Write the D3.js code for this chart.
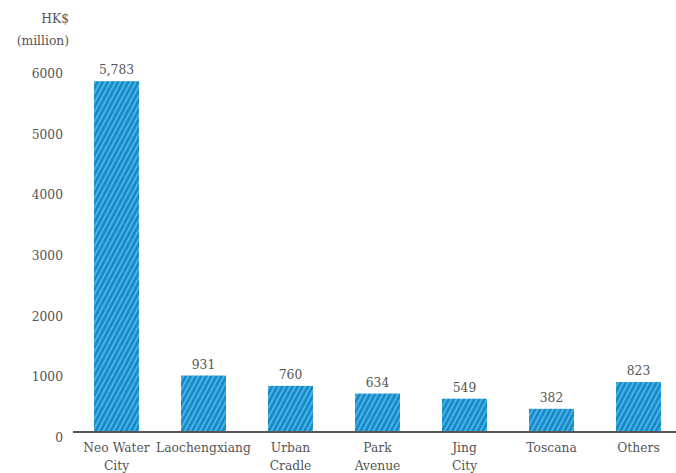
<!DOCTYPE html>
<html>
<head>
<meta charset="utf-8">
<script src="https://cdn.jsdelivr.net/npm/d3@7"></script>
<style>
  body { margin: 0; background: #fff; }
  svg text { font-family: "DejaVu Serif", serif; fill: #555; }
</style>
</head>
<body>
<svg width="676" height="473"></svg>
<script>
// chart data
const categories = [['Neo Water', 'City'], ['Laochengxiang'], ['Urban', 'Cradle'], ['Park', 'Avenue'], ['Jing', 'City'], ['Toscana'], ['Others']];
const values = [5783, 931, 760, 634, 549, 382, 823];
const yTicks = [0, 1000, 2000, 3000, 4000, 5000, 6000];

const svg = d3.select('svg');
const base = 432;
const fs = 12.3;

const x = d3.scaleBand()
  .domain(d3.range(values.length))
  .range([73, 682])
  .paddingInner(0.483)
  .paddingOuter(0.2415);

const y = d3.scaleLinear()
  .domain([0, 6000])
  .range([base, base - 364]);

// hatch fill
const defs = svg.append('defs');
const pat = defs.append('pattern')
  .attr('id', 'hatch')
  .attr('patternUnits', 'userSpaceOnUse')
  .attr('width', 4.5).attr('height', 4.5)
  .attr('patternTransform', 'rotate(28)');
pat.append('rect').attr('width', 4.5).attr('height', 4.5).attr('fill', '#178ac9');
pat.append('rect').attr('width', 1.8).attr('height', 4.5).attr('fill', '#4db2e4');

// unit label
svg.append('text').attr('x', 69).attr('y', 23)
  .attr('text-anchor', 'end').attr('font-size', fs).text('HK$');
svg.append('text').attr('x', 69).attr('y', 45)
  .attr('text-anchor', 'end').attr('font-size', fs).text('(million)');

// y tick labels
svg.append('g').selectAll('text')
  .data(yTicks)
  .enter().append('text')
  .attr('x', 63)
  .attr('y', d => y(d) + 10)
  .attr('text-anchor', 'end')
  .attr('font-size', fs)
  .text(d => d);

// bars
svg.append('g').selectAll('rect')
  .data(values)
  .enter().append('rect')
  .attr('x', (d, i) => x(i))
  .attr('y', d => y(d))
  .attr('width', x.bandwidth())
  .attr('height', d => base - y(d))
  .attr('fill', 'url(#hatch)');

// value labels
svg.append('g').selectAll('text')
  .data(values)
  .enter().append('text')
  .attr('x', (d, i) => x(i) + x.bandwidth() / 2)
  .attr('y', d => y(d) - 7)
  .attr('text-anchor', 'middle')
  .attr('font-size', fs)
  .text(d => d3.format(',')(d));

// baseline
svg.append('line')
  .attr('x1', 73).attr('x2', 676)
  .attr('y1', base).attr('y2', base)
  .attr('stroke', '#555').attr('stroke-width', 2);

// category labels
const cat = svg.append('g').selectAll('text')
  .data(categories)
  .enter().append('text')
  .attr('text-anchor', 'middle')
  .attr('font-size', fs);
cat.selectAll('tspan')
  .data((d, i) => d.map(t => ({ t, i })))
  .enter().append('tspan')
  .attr('x', d => x(d.i) + x.bandwidth() / 2)
  .attr('y', (d, j) => 452 + j * 18)
  .text(d => d.t);
</script>
</body>
</html>
